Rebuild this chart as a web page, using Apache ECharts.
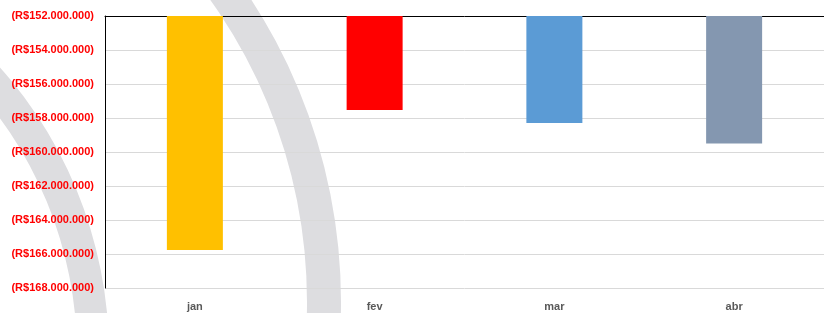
<!DOCTYPE html>
<html>
<head>
<meta charset="utf-8">
<script src="https://cdn.jsdelivr.net/npm/echarts@6/dist/echarts.min.js"></script>
<style>
  html, body { margin: 0; padding: 0; background: #fff; }
  #chart { width: 824px; height: 313px; }
</style>
</head>
<body>
<div id="chart"></div>
<script>
  // meses e valores (negativos, em R$)
  var meses = ['jan', 'fev', 'mar', 'abr'];
  var valores = [-165760000, -157530000, -158300000, -159500000];
  var cores = ['#FFC000', '#FF0000', '#5B9BD5', '#8497B0'];
  var eixoMin = -168000000;
  var eixoMax = -152000000;
  var eixoPasso = 2000000;

  // formato (R$152.000.000)
  function formatoReal(v) {
    var s = String(Math.abs(v)).replace(/\B(?=(\d{3})+(?!\d))/g, '.');
    return v < 0 ? '(R$' + s + ')' : 'R$' + s;
  }

  var chart = echarts.init(document.getElementById('chart'));
  chart.setOption({
    animation: false,
    textStyle: { fontFamily: 'Liberation Sans, Arial, sans-serif' },
    // arcos cinza de fundo (marca d'agua)
    graphic: [
      {
        type: 'ring', z: -1, silent: true,
        shape: { cx: -213, cy: 302, r: 554, r0: 520 },
        style: { fill: '#dddde0' }
      },
      {
        type: 'ring', z: -1, silent: true,
        shape: { cx: -322, cy: 354, r: 431, r0: 399 },
        style: { fill: '#dddde0' }
      }
    ],
    grid: {
      left: 105,
      right: 0,
      top: 16,
      bottom: 25
    },
    xAxis: [
      {
        type: 'category',
        position: 'bottom',
        data: meses,
        axisLine: { show: false },
        axisTick: { show: false },
        axisLabel: {
          margin: 13,
          color: '#595959',
          fontSize: 11,
          fontWeight: 'bold'
        }
      },
      {
        type: 'category',
        position: 'top',
        data: meses,
        axisLine: { show: true, lineStyle: { color: '#000', width: 1 } },
        axisTick: { show: false },
        axisLabel: { show: false }
      }
    ],
    yAxis: {
      type: 'value',
      min: eixoMin,
      max: eixoMax,
      interval: eixoPasso,
      axisLine: { show: true, lineStyle: { color: '#000', width: 1 } },
      axisTick: { show: false },
      splitLine: { lineStyle: { color: '#d9d9d9', width: 1 } },
      axisLabel: {
        margin: 11,
        color: '#FF0000',
        fontSize: 11,
        fontWeight: 'bold',
        formatter: formatoReal
      }
    },
    series: [
      {
        type: 'bar',
        barWidth: 56,
        clip: true,
        data: valores.map(function (v, i) {
          return { value: v, itemStyle: { color: cores[i] } };
        })
      }
    ]
  });
</script>
</body>
</html>
